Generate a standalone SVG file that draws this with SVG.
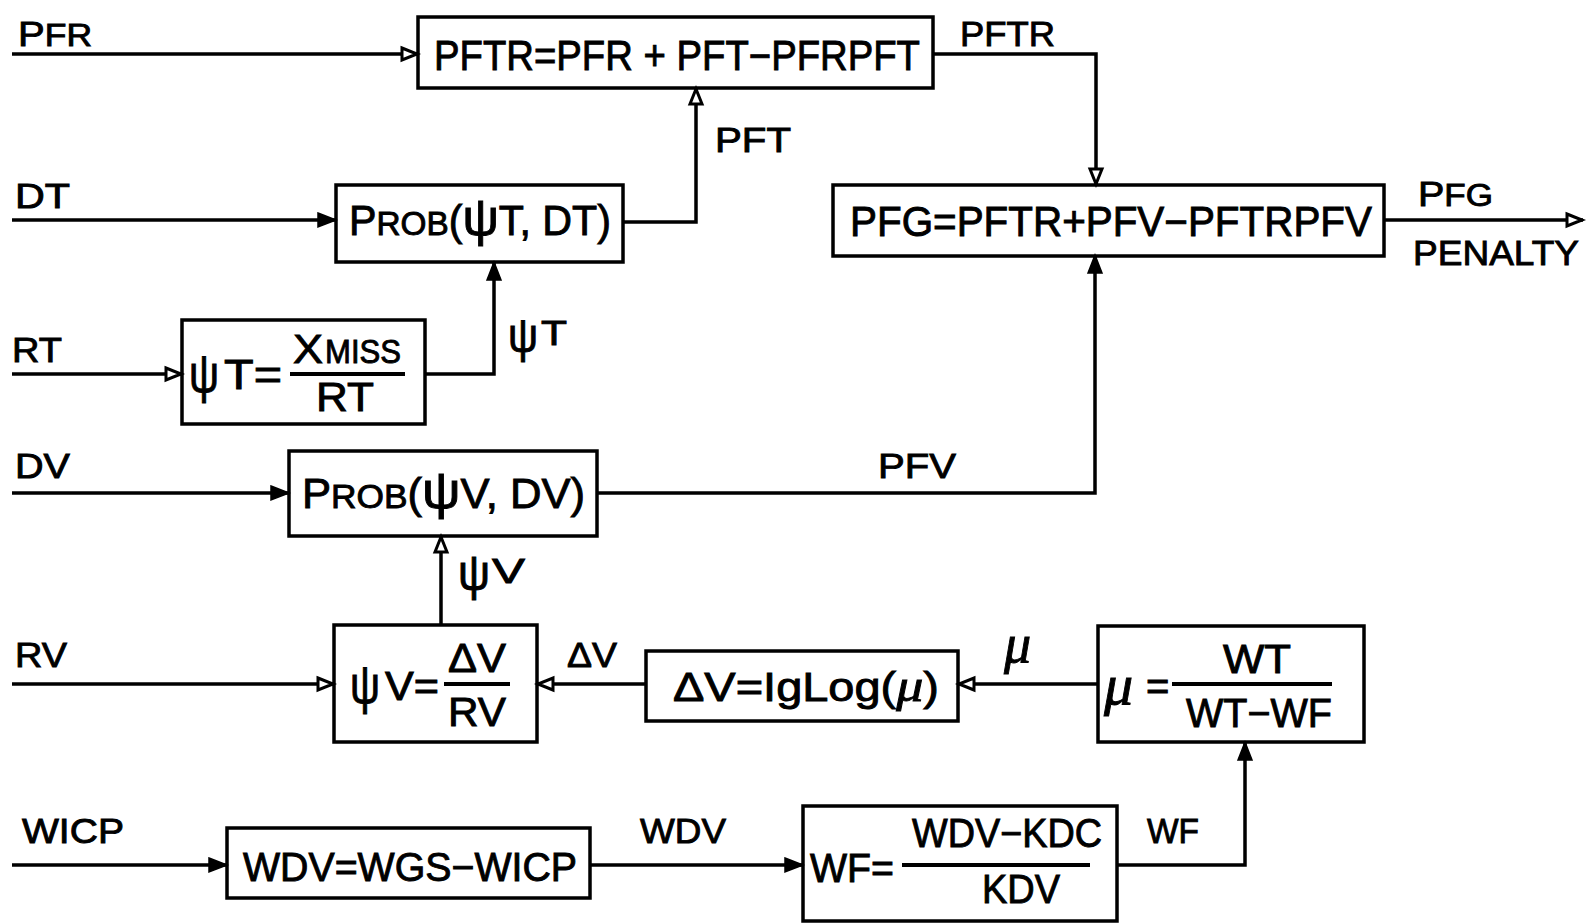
<svg xmlns="http://www.w3.org/2000/svg" width="1587" height="924" viewBox="0 0 1587 924">
<style>
text{font-family:"Liberation Sans","DejaVu Sans",Arial,sans-serif;fill:#000;stroke:#000;stroke-width:0.9}
.box{fill:none;stroke:#000;stroke-width:3.5}
.ln{fill:none;stroke:#000;stroke-width:3.5;stroke-linejoin:miter}
.fo{marker-end:url(#open)}
.ff{marker-end:url(#fill)}
.lbl{font-size:35px}
.bx{font-size:42px}
.fr{fill:none;stroke:#000;stroke-width:4}
.mu{font-family:"Liberation Serif","DejaVu Serif",serif;font-style:italic}
</style>
<defs>
<marker id="fill" markerUnits="userSpaceOnUse" markerWidth="22" markerHeight="18" refX="19" refY="8" orient="auto" viewBox="0 0 22 16">
<path d="M1,1 L19,8 L1,15 Z" fill="#000" stroke="#000" stroke-width="1.5"/>
</marker>
<marker id="open" markerUnits="userSpaceOnUse" markerWidth="22" markerHeight="18" refX="18" refY="8" orient="auto" viewBox="0 0 22 16">
<path d="M2,2 L17,8 L2,14 Z" fill="#fff" stroke="#000" stroke-width="3"/>
</marker>
</defs>
<rect width="1587" height="924" fill="#fff"/>

<g id="connectors">
<path class="ln fo" d="M12,54 H418"/>
<path class="ln fo" d="M933,54 H1096 V185"/>
<path class="ln fo" d="M1384,220 H1583"/>
<path class="ln fo" d="M623,222 H696 V88"/>
<path class="ln ff" d="M12,220 H336"/>
<path class="ln fo" d="M12,374 H182"/>
<path class="ln ff" d="M425,374 H494 V262"/>
<path class="ln ff" d="M12,493 H289"/>
<path class="ln ff" d="M597,493 H1095 V255"/>
<path class="ln fo" d="M441,625 V536"/>
<path class="ln fo" d="M12,684 H334"/>
<path class="ln fo" d="M646,684 H537"/>
<path class="ln fo" d="M1098,684 H958"/>
<path class="ln ff" d="M12,865 H227"/>
<path class="ln ff" d="M590,865 H803"/>
<path class="ln ff" d="M1117,865 H1245 V742"/>
</g>

<g id="labels">
<text class="lbl" x="18" y="46" textLength="74" lengthAdjust="spacingAndGlyphs">P<tspan font-size="31">FR</tspan></text>
<text class="lbl" x="960" y="46" textLength="95" lengthAdjust="spacingAndGlyphs">PFTR</text>
<text class="lbl" x="1418" y="206" textLength="75" lengthAdjust="spacingAndGlyphs">P<tspan font-size="31">FG</tspan></text>
<text class="lbl" x="1413" y="265" textLength="166" lengthAdjust="spacingAndGlyphs">PENALTY</text>
<text class="lbl" x="715" y="152" textLength="76" lengthAdjust="spacingAndGlyphs">PFT</text>
<text class="lbl" x="15" y="208" textLength="55" lengthAdjust="spacingAndGlyphs">DT</text>
<text class="lbl" x="12" y="362" textLength="50" lengthAdjust="spacingAndGlyphs">RT</text>
<text x="508" y="352" font-size="48" textLength="30" lengthAdjust="spacingAndGlyphs">ψ</text>
<text class="lbl" x="541" y="345" textLength="26" lengthAdjust="spacingAndGlyphs">T</text>
<text class="lbl" x="15" y="478" textLength="55" lengthAdjust="spacingAndGlyphs">DV</text>
<text class="lbl" x="878" y="478" textLength="78" lengthAdjust="spacingAndGlyphs">PFV</text>
<text x="458" y="590" font-size="50" textLength="32" lengthAdjust="spacingAndGlyphs">ψ</text>
<text class="lbl" x="492" y="583" textLength="33" lengthAdjust="spacingAndGlyphs">V</text>
<text class="lbl" x="15" y="667" textLength="52" lengthAdjust="spacingAndGlyphs">RV</text>
<text class="lbl" x="567" y="667" textLength="50" lengthAdjust="spacingAndGlyphs">ΔV</text>
<text class="mu" x="1004" y="662" font-size="54">μ</text>
<text class="lbl" x="22" y="843" textLength="102" lengthAdjust="spacingAndGlyphs">WICP</text>
<text class="lbl" x="640" y="843" textLength="86" lengthAdjust="spacingAndGlyphs">WDV</text>
<text class="lbl" x="1147" y="843" textLength="52" lengthAdjust="spacingAndGlyphs">WF</text>
</g>

<g id="n-pftr">
<rect class="box" x="418" y="17" width="515" height="71"/>
<text class="bx" x="434" y="70" textLength="486" lengthAdjust="spacingAndGlyphs">PFTR=PFR + PFT−PFRPFT</text>
</g>

<g id="n-pfg">
<rect class="box" x="833" y="185" width="551" height="71"/>
<text class="bx" x="850" y="236" textLength="522" lengthAdjust="spacingAndGlyphs">PFG=PFTR+PFV−PFTRPFV</text>
</g>

<g id="n-probt">
<rect class="box" x="336" y="185" width="287" height="77"/>
<text class="bx" x="349" y="235" textLength="262" lengthAdjust="spacingAndGlyphs">P<tspan font-size="34">ROB</tspan>(<tspan font-size="52">ψ</tspan>T, DT)</text>
</g>

<g id="n-psit">
<rect class="box" x="182" y="320" width="243" height="104"/>
<text x="189" y="392" font-size="54" textLength="30" lengthAdjust="spacingAndGlyphs">ψ</text>
<text x="224" y="389" font-size="42" textLength="58" lengthAdjust="spacingAndGlyphs">T=</text>
<line class="fr" x1="290" y1="374" x2="405" y2="374"/>
<text x="293" y="363" font-size="40" textLength="30" lengthAdjust="spacingAndGlyphs">X</text>
<text x="325" y="363" font-size="34" textLength="76" lengthAdjust="spacingAndGlyphs">MISS</text>
<text x="316" y="411" font-size="40" textLength="58" lengthAdjust="spacingAndGlyphs">RT</text>
</g>

<g id="n-probv">
<rect class="box" x="289" y="451" width="308" height="85"/>
<text class="bx" x="302" y="508" textLength="283" lengthAdjust="spacingAndGlyphs">P<tspan font-size="34">ROB</tspan>(<tspan font-size="52">ψ</tspan>V, DV)</text>
</g>

<g id="n-psiv">
<rect class="box" x="334" y="625" width="203" height="117"/>
<text x="350" y="703" font-size="54" textLength="30" lengthAdjust="spacingAndGlyphs">ψ</text>
<text x="385" y="700" font-size="40" textLength="54" lengthAdjust="spacingAndGlyphs">V=</text>
<line class="fr" x1="444" y1="684" x2="510" y2="684"/>
<text x="448" y="672" font-size="40" textLength="58" lengthAdjust="spacingAndGlyphs">ΔV</text>
<text x="448" y="726" font-size="40" textLength="58" lengthAdjust="spacingAndGlyphs">RV</text>
</g>

<g id="n-dv">
<rect class="box" x="646" y="651" width="312" height="70"/>
<text x="673" y="701" font-size="40" textLength="266" lengthAdjust="spacingAndGlyphs">ΔV=IgLog(<tspan class="mu" font-size="46">μ</tspan>)</text>
</g>

<g id="n-mu">
<rect class="box" x="1098" y="626" width="266" height="116"/>
<text class="mu" x="1104" y="704" font-size="58">μ</text>
<text x="1146" y="700" font-size="40">=</text>
<line class="fr" x1="1172" y1="684" x2="1332" y2="684"/>
<text x="1223" y="673" font-size="40" textLength="68" lengthAdjust="spacingAndGlyphs">WT</text>
<text x="1186" y="727" font-size="40" textLength="146" lengthAdjust="spacingAndGlyphs">WT−WF</text>
</g>

<g id="n-wdv">
<rect class="box" x="227" y="828" width="363" height="70"/>
<text x="243" y="881" font-size="40" textLength="334" lengthAdjust="spacingAndGlyphs">WDV=WGS−WICP</text>
</g>

<g id="n-wf">
<rect class="box" x="803" y="806" width="314" height="115"/>
<text x="810" y="882" font-size="40" textLength="84" lengthAdjust="spacingAndGlyphs">WF=</text>
<line class="fr" x1="902" y1="865" x2="1090" y2="865"/>
<text x="912" y="847" font-size="40" textLength="190" lengthAdjust="spacingAndGlyphs">WDV−KDC</text>
<text x="982" y="903" font-size="40" textLength="78" lengthAdjust="spacingAndGlyphs">KDV</text>
</g>
</svg>
